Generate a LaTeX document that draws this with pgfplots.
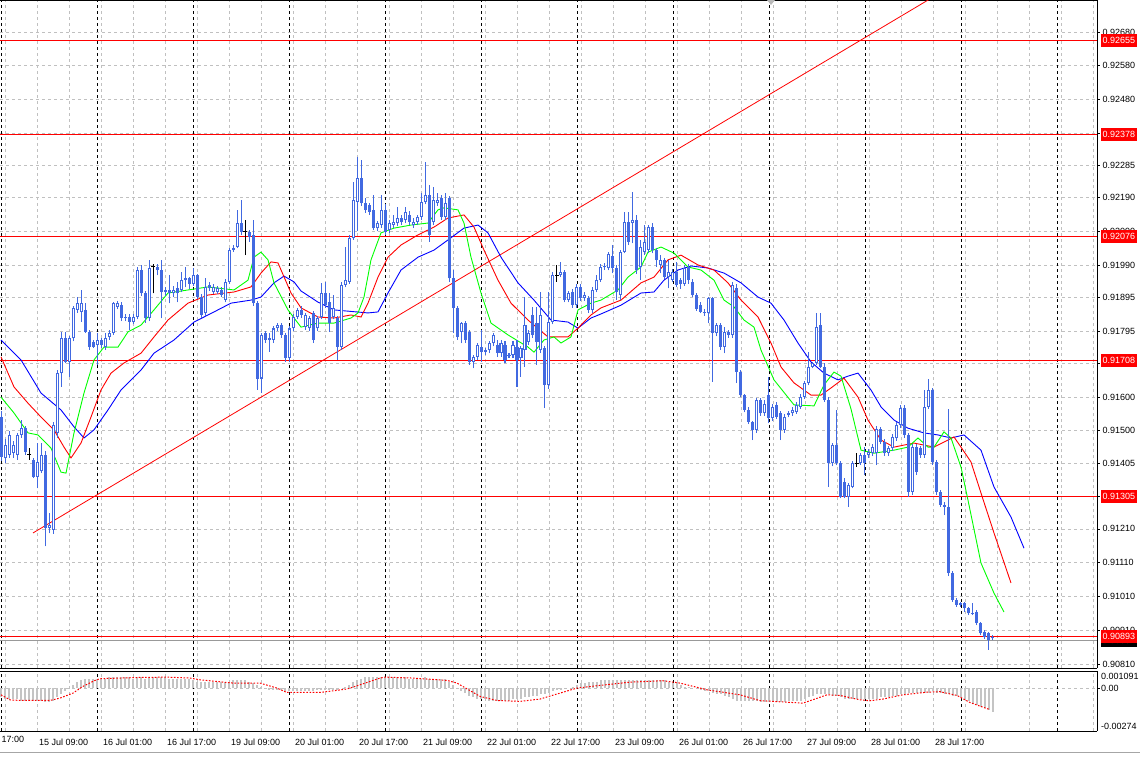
\documentclass[border=0pt]{standalone}
\usepackage{fontspec}
\setmainfont{Liberation Sans}
\usepackage{pgfplots}
\pgfplotsset{compat=1.18}
\usepackage{pgfplotstable}
\usetikzlibrary{plotmarks}

\definecolor{candle}{RGB}{65,105,225}
\definecolor{gridgray}{RGB}{192,192,192}
\definecolor{histgray}{RGB}{196,196,196}
\definecolor{lime}{RGB}{0,255,0}

% hourly bars: i o h l c
\pgfplotstableread{
i o h l c
0 0.91542 0.91560 0.91410 0.91424
1 0.91419 0.91475 0.91405 0.91458
2 0.91429 0.91500 0.91420 0.91488
3 0.91434 0.91470 0.91420 0.91458
4 0.91429 0.91495 0.91415 0.91488
5 0.91488 0.91532 0.91480 0.91508
6 0.91508 0.91515 0.91430 0.91439
7 0.91429 0.91448 0.91414 0.91429
8 0.91414 0.91420 0.91360 0.91365
9 0.91365 0.91463 0.91330 0.91409
10 0.91380 0.91463 0.91375 0.91429
11 0.91429 0.91440 0.91158 0.91212
12 0.91212 0.91256 0.91197 0.91222
13 0.91207 0.91525 0.91195 0.91517
14 0.91493 0.91680 0.91480 0.91670
15 0.91670 0.91794 0.91631 0.91774
16 0.91774 0.91794 0.91700 0.91705
17 0.91705 0.91780 0.91660 0.91774
18 0.91774 0.91870 0.91765 0.91863
19 0.91858 0.91897 0.91850 0.91877
20 0.91853 0.91917 0.91823 0.91877
21 0.91858 0.91877 0.91790 0.91794
22 0.91794 0.91800 0.91740 0.91749
23 0.91764 0.91770 0.91745 0.91749
24 0.91754 0.91789 0.91695 0.91769
25 0.91769 0.91775 0.91745 0.91754
26 0.91749 0.91790 0.91740 0.91774
27 0.91779 0.91800 0.91770 0.91789
28 0.91789 0.91882 0.91785 0.91877
29 0.91867 0.91885 0.91860 0.91877
30 0.91872 0.91880 0.91825 0.91833
31 0.91838 0.91845 0.91825 0.91833
32 0.91838 0.91845 0.91800 0.91823
33 0.91823 0.91845 0.91815 0.91838
34 0.91838 0.91986 0.91830 0.91976
35 0.91976 0.91990 0.91900 0.91907
36 0.91907 0.91915 0.91820 0.91833
37 0.91833 0.92005 0.91825 0.91981
38 0.91986 0.91995 0.91907 0.91986
39 0.91986 0.91995 0.91960 0.91976
40 0.91976 0.92005 0.91833 0.91912
41 0.91912 0.91925 0.91900 0.91917
42 0.91917 0.91961 0.91877 0.91907
43 0.91907 0.91930 0.91895 0.91917
44 0.91922 0.91940 0.91880 0.91907
45 0.91917 0.91971 0.91910 0.91946
46 0.91951 0.91985 0.91925 0.91946
47 0.91951 0.91956 0.91920 0.91936
48 0.91936 0.91981 0.91930 0.91961
49 0.91961 0.91965 0.91890 0.91897
50 0.91897 0.91905 0.91835 0.91843
51 0.91848 0.91951 0.91840 0.91927
52 0.91932 0.91940 0.91915 0.91922
53 0.91912 0.91935 0.91905 0.91927
54 0.91912 0.91930 0.91905 0.91922
55 0.91917 0.91925 0.91895 0.91902
56 0.91887 0.91950 0.91880 0.91941
57 0.91941 0.92040 0.91935 0.92035
58 0.92035 0.92050 0.92030 0.92040
59 0.92045 0.92153 0.92040 0.92114
60 0.92114 0.92183 0.92080 0.92089
61 0.92089 0.92124 0.92020 0.92089
62 0.92089 0.92095 0.92060 0.92075
63 0.92080 0.92124 0.91870 0.91877
64 0.91877 0.91885 0.91621 0.91655
65 0.91655 0.91789 0.91611 0.91784
66 0.91789 0.91795 0.91760 0.91769
67 0.91769 0.91789 0.91734 0.91774
68 0.91769 0.91810 0.91760 0.91803
69 0.91803 0.91820 0.91795 0.91813
70 0.91813 0.91820 0.91775 0.91784
71 0.91784 0.91790 0.91705 0.91715
72 0.91715 0.91810 0.91705 0.91803
73 0.91803 0.91845 0.91795 0.91838
74 0.91838 0.91865 0.91830 0.91858
75 0.91858 0.91870 0.91835 0.91843
76 0.91808 0.91850 0.91800 0.91843
77 0.91803 0.91840 0.91795 0.91833
78 0.91848 0.91855 0.91760 0.91769
79 0.91803 0.91840 0.91795 0.91833
80 0.91838 0.91937 0.91830 0.91907
81 0.91907 0.91941 0.91865 0.91873
82 0.91882 0.91907 0.91794 0.91818
83 0.91838 0.91902 0.91830 0.91863
84 0.91833 0.91840 0.91710 0.91749
85 0.91749 0.91940 0.91740 0.91932
86 0.91932 0.92045 0.91925 0.91946
87 0.91942 0.92080 0.91935 0.92070
88 0.92070 0.92237 0.92065 0.92183
89 0.92178 0.92311 0.92090 0.92247
90 0.92247 0.92301 0.92165 0.92173
91 0.92173 0.92190 0.92145 0.92154
92 0.92168 0.92175 0.92140 0.92149
93 0.92154 0.92198 0.92094 0.92099
94 0.92099 0.92120 0.92090 0.92114
95 0.92109 0.92198 0.92100 0.92155
96 0.92155 0.92170 0.92080 0.92089
97 0.92094 0.92125 0.92085 0.92114
98 0.92109 0.92140 0.92100 0.92119
99 0.92114 0.92163 0.92105 0.92129
100 0.92129 0.92140 0.92110 0.92119
101 0.92124 0.92163 0.92115 0.92149
102 0.92139 0.92150 0.92110 0.92119
103 0.92109 0.92130 0.92100 0.92119
104 0.92119 0.92140 0.92110 0.92134
105 0.92134 0.92203 0.92125 0.92178
106 0.92178 0.92296 0.92170 0.92198
107 0.92198 0.92227 0.92060 0.92080
108 0.92119 0.92222 0.92110 0.92183
109 0.92173 0.92203 0.92165 0.92183
110 0.92188 0.92198 0.92125 0.92134
111 0.92134 0.92203 0.92125 0.92173
112 0.92188 0.92195 0.91940 0.91951
113 0.91951 0.91976 0.91789 0.91863
114 0.91863 0.91870 0.91770 0.91779
115 0.91794 0.91823 0.91759 0.91818
116 0.91818 0.91825 0.91760 0.91769
117 0.91794 0.91800 0.91695 0.91705
118 0.91705 0.91725 0.91685 0.91720
119 0.91720 0.91760 0.91710 0.91754
120 0.91749 0.91799 0.91705 0.91734
121 0.91739 0.91745 0.91725 0.91734
122 0.91739 0.91765 0.91730 0.91759
123 0.91759 0.91790 0.91750 0.91784
124 0.91754 0.91770 0.91720 0.91730
125 0.91730 0.91770 0.91720 0.91759
126 0.91754 0.91765 0.91700 0.91710
127 0.91721 0.91730 0.91715 0.91725
128 0.91725 0.91765 0.91715 0.91754
129 0.91749 0.91769 0.91631 0.91710
130 0.91715 0.91750 0.91660 0.91744
131 0.91739 0.91897 0.91690 0.91813
132 0.91764 0.91800 0.91755 0.91789
133 0.91843 0.91868 0.91775 0.91784
134 0.91818 0.91868 0.91695 0.91764
135 0.91739 0.91912 0.91730 0.91843
136 0.91744 0.91750 0.91567 0.91636
137 0.91636 0.91912 0.91625 0.91823
138 0.91823 0.91970 0.91815 0.91961
139 0.91961 0.91991 0.91942 0.91961
140 0.91961 0.92001 0.91955 0.91971
141 0.91971 0.91975 0.91880 0.91887
142 0.91887 0.91915 0.91880 0.91907
143 0.91912 0.91920 0.91865 0.91873
144 0.91873 0.91935 0.91865 0.91927
145 0.91926 0.91935 0.91885 0.91892
146 0.91892 0.91910 0.91885 0.91902
147 0.91892 0.91900 0.91850 0.91857
148 0.91857 0.91925 0.91850 0.91917
149 0.91917 0.91961 0.91910 0.91946
150 0.91946 0.91995 0.91940 0.91986
151 0.91984 0.91996 0.91976 0.91988
152 0.91981 0.92030 0.91975 0.92023
153 0.92018 0.92050 0.91966 0.91981
154 0.91981 0.91990 0.91887 0.91912
155 0.91902 0.92035 0.91887 0.92030
156 0.92030 0.92148 0.92025 0.92119
157 0.92119 0.92148 0.92050 0.92060
158 0.92114 0.92207 0.92055 0.92124
159 0.92124 0.92140 0.91965 0.91976
160 0.91986 0.92065 0.91946 0.92045
161 0.92030 0.92109 0.92020 0.92060
162 0.92035 0.92110 0.92025 0.92104
163 0.92104 0.92115 0.92025 0.92035
164 0.92035 0.92040 0.91986 0.92005
165 0.91991 0.92020 0.91966 0.92005
166 0.92005 0.92012 0.91950 0.91956
167 0.91956 0.92005 0.91922 0.91971
168 0.91946 0.91980 0.91940 0.91971
169 0.91971 0.92001 0.91925 0.91931
170 0.91946 0.91952 0.91920 0.91936
171 0.91936 0.91991 0.91930 0.91981
172 0.91986 0.91995 0.91935 0.91946
173 0.91941 0.91950 0.91895 0.91902
174 0.91902 0.91908 0.91855 0.91862
175 0.91872 0.91880 0.91848 0.91853
176 0.91853 0.91860 0.91840 0.91848
177 0.91848 0.91897 0.91818 0.91892
178 0.91892 0.91897 0.91645 0.91789
179 0.91789 0.91820 0.91780 0.91813
180 0.91813 0.91818 0.91740 0.91749
181 0.91749 0.91808 0.91729 0.91793
182 0.91793 0.91800 0.91775 0.91784
183 0.91784 0.91940 0.91775 0.91931
184 0.91922 0.91936 0.91641 0.91675
185 0.91675 0.91680 0.91600 0.91606
186 0.91606 0.91610 0.91555 0.91562
187 0.91562 0.91570 0.91520 0.91527
188 0.91527 0.91530 0.91473 0.91503
189 0.91503 0.91596 0.91495 0.91591
190 0.91591 0.91596 0.91545 0.91552
191 0.91552 0.91590 0.91545 0.91581
192 0.91606 0.91660 0.91522 0.91537
193 0.91537 0.91580 0.91530 0.91572
194 0.91577 0.91585 0.91535 0.91542
195 0.91552 0.91560 0.91473 0.91503
196 0.91503 0.91550 0.91495 0.91542
197 0.91547 0.91560 0.91540 0.91552
198 0.91552 0.91570 0.91545 0.91562
199 0.91557 0.91585 0.91550 0.91576
200 0.91571 0.91610 0.91565 0.91601
201 0.91601 0.91648 0.91595 0.91641
202 0.91641 0.91734 0.91635 0.91690
203 0.91690 0.91705 0.91685 0.91700
204 0.91700 0.91848 0.91695 0.91808
205 0.91813 0.91848 0.91685 0.91690
206 0.91690 0.91700 0.91585 0.91591
207 0.91591 0.91600 0.91335 0.91404
208 0.91404 0.91465 0.91395 0.91458
209 0.91458 0.91562 0.91398 0.91404
210 0.91404 0.91410 0.91300 0.91305
211 0.91350 0.91360 0.91300 0.91305
212 0.91305 0.91345 0.91276 0.91340
213 0.91335 0.91410 0.91330 0.91404
214 0.91404 0.91434 0.91394 0.91404
215 0.91404 0.91435 0.91400 0.91429
216 0.91429 0.91453 0.91370 0.91404
217 0.91429 0.91445 0.91420 0.91439
218 0.91434 0.91460 0.91425 0.91453
219 0.91434 0.91515 0.91399 0.91507
220 0.91507 0.91512 0.91460 0.91468
221 0.91468 0.91475 0.91425 0.91434
222 0.91434 0.91455 0.91425 0.91448
223 0.91448 0.91490 0.91440 0.91483
224 0.91478 0.91525 0.91470 0.91517
225 0.91517 0.91576 0.91510 0.91567
226 0.91567 0.91576 0.91480 0.91488
227 0.91488 0.91495 0.91305 0.91320
228 0.91320 0.91460 0.91310 0.91453
229 0.91453 0.91460 0.91370 0.91379
230 0.91448 0.91455 0.91420 0.91429
231 0.91429 0.91621 0.91420 0.91571
232 0.91571 0.91655 0.91565 0.91621
233 0.91621 0.91626 0.91400 0.91409
234 0.91409 0.91415 0.91310 0.91320
235 0.91320 0.91325 0.91275 0.91281
236 0.91281 0.91290 0.91251 0.91276
237 0.91276 0.91566 0.91070 0.91079
238 0.91079 0.91085 0.90995 0.91000
239 0.91000 0.91005 0.90980 0.90985
240 0.90990 0.90995 0.90980 0.90985
241 0.90990 0.90995 0.90965 0.90975
242 0.90975 0.90980 0.90955 0.90960
243 0.90962 0.90990 0.90955 0.90960
244 0.90965 0.90970 0.90925 0.90931
245 0.90931 0.90935 0.90895 0.90901
246 0.90906 0.90910 0.90885 0.90891
247 0.90901 0.90906 0.90852 0.90881
248 0.90890 0.90895 0.90880 0.90887
}\candles

\pgfplotsset{
  every tick label/.append style={font=\fontsize{9}{10}\selectfont},
  mtgrid/.style={
    xmin=-0.25, xmax=274,
    scale only axis, width=1097pt,
    axis x line*=box, axis y line*=right,
    axis line style={black, line width=0.8pt},
    minor xtick={1,17,...,273},
    xminorgrids, xmajorgrids, ymajorgrids,
    major grid style={gridgray, dash pattern=on 3pt off 3pt, line width=0.8pt},
    minor grid style={gridgray, dash pattern=on 3pt off 3pt, line width=0.8pt},
    extra x ticks={0,24,...,264}, extra x tick labels={},
    extra x tick style={major grid style={black, dash pattern=on 3pt off 3pt, line width=0.8pt}, major tick length=0pt},
    x tick style={draw=none}, minor x tick style={draw=none},
    tick align=outside, major tick length=3pt,
    y tick style={black, line width=0.8pt},
    scaled y ticks=false,
    clip mode=individual,
  },
  wick/.style={draw=none, forget plot, error bars/.cd, y dir=plus, y explicit, error mark=none,
    error bar style={draw=#1, line width=1pt}},
}

\begin{document}
\begin{tikzpicture}
\useasboundingbox (0pt,0pt) rectangle (1140pt,756pt);
\fill[white] (0pt,0pt) rectangle (1140pt,756pt);

% ---------------- price window ----------------
\begin{axis}[mtgrid,
  name=main, at={(0pt,88pt)}, anchor=south west, height=668pt,
  ymin=0.907984, ymax=0.92775,
  xtick={9,25,...,265}, xticklabels={},
  ytick={0.90810,0.90910,0.91010,0.91110,0.91210,0.91305,0.91405,0.91500,0.91600,0.91700,0.91795,0.91895,0.91990,0.92090,0.92190,0.92285,0.92380,0.92480,0.92580,0.92680},
  yticklabels={0.90810,0.90910,0.91010,0.91110,0.91210,0.91305,0.91405,0.91500,0.91600,0.91700,0.91795,0.91895,0.91990,0.92090,0.92190,0.92285,0.92380,0.92480,0.92580,0.92680},
  yticklabel pos=right,
  y tick label style={anchor=west, xshift=-1pt},
]
% horizontal levels
\addplot[red, line width=0.8pt] coordinates {(-1,0.92655) (275,0.92655)};
\addplot[red, line width=0.8pt] coordinates {(-1,0.92378) (275,0.92378)};
\addplot[red, line width=0.8pt] coordinates {(-1,0.92076) (275,0.92076)};
\addplot[red, line width=0.8pt] coordinates {(-1,0.91708) (275,0.91708)};
\addplot[red, line width=0.8pt] coordinates {(-1,0.91305) (275,0.91305)};
\addplot[gray!80, line width=0.8pt] coordinates {(-1,0.90881) (275,0.90881)};
\addplot[red, line width=0.8pt] coordinates {(-1,0.90893) (275,0.90893)};
% trend line
\addplot[red, line width=0.8pt] coordinates {(8,0.91198) (232.5,0.92780)};

% alligator lines
\addplot[blue, line width=0.9pt] coordinates {
(0,0.91769)(5,0.91710)(10,0.91612)(15,0.91562)(18.25,0.91512)(20.75,0.91479)(23.25,0.91503)(26.75,0.91562)
(30,0.91621)(35,0.91680)(38.25,0.91730)(43.25,0.91769)(48.25,0.91822)(53.25,0.91852)(57.5,0.91878)(62.5,0.91887)
(65,0.91896)(68.25,0.91938)(70.75,0.91958)(73.25,0.91941)(75,0.91914)(79.25,0.91881)(83.25,0.91858)(91.75,0.91849)
(94.25,0.91852)(96.75,0.91908)(100,0.91976)(104.25,0.92014)(108.25,0.92035)(111.75,0.92065)(115.75,0.92100)
(119.25,0.92109)(121.75,0.92086)(125,0.92014)(129.25,0.91938)(133.25,0.91887)(137.5,0.91828)(141.75,0.91822)
(144.25,0.91804)(147.5,0.91834)(150,0.91846)(155,0.91872)(160,0.91908)(163.25,0.91911)(165.75,0.91946)
(169.25,0.91976)(172.5,0.91988)(176.75,0.91982)(180.75,0.91967)(185,0.91938)(189.25,0.91896)(192.5,0.91878)
(195.75,0.91828)(199.25,0.91760)(202.5,0.91704)(205.75,0.91671)(209.25,0.91651)(211.75,0.91662)(214.25,0.91671)
(217.5,0.91621)(220,0.91571)(223.25,0.91532)(226.75,0.91508)(230.75,0.91494)(234.25,0.91488)(237.5,0.91479)
(240.75,0.91488)(245,0.91443)(248.25,0.91334)(252.5,0.91245)(255.75,0.91153)};
\addplot[red, line width=0.9pt] coordinates {
(0,0.91719)(3.25,0.91630)(6.75,0.91582)(10,0.91541)(13.25,0.91503)(15.75,0.91452)(17.5,0.91420)(20,0.91464)
(22.5,0.91541)(25,0.91621)(27.5,0.91671)(30.75,0.91701)(35,0.91730)(38.25,0.91778)(41.75,0.91828)(46.75,0.91878)
(51.75,0.91902)(58.25,0.91911)(62.5,0.91926)(65,0.91967)(67.5,0.92000)(69.25,0.91997)(72.5,0.91908)(75,0.91864)
(79.25,0.91837)(83.25,0.91834)(87.5,0.91843)(90,0.91837)(91.75,0.91878)(94.25,0.91955)(96.75,0.92014)(100,0.92050)
(104.25,0.92080)(108.25,0.92103)(111.75,0.92130)(115.75,0.92139)(118.25,0.92103)(120.75,0.92035)(124.25,0.91946)
(127.5,0.91878)(131.75,0.91828)(136.75,0.91778)(141.75,0.91778)(144.25,0.91804)(147.5,0.91843)(150,0.91864)
(155,0.91887)(160,0.91938)(163.25,0.91955)(166.75,0.92006)(170,0.92020)(174.25,0.91991)(178.25,0.91976)
(181.75,0.91938)(185,0.91887)(189.25,0.91837)(192.5,0.91760)(195,0.91689)(198.25,0.91642)(202.5,0.91606)
(205,0.91606)(207.5,0.91627)(210.75,0.91656)(214.25,0.91600)(216.75,0.91532)(220,0.91473)(223.25,0.91452)
(228.25,0.91464)(233.25,0.91452)(236.75,0.91473)(238.25,0.91482)(240,0.91452)(242.5,0.91408)(245,0.91316)
(248.25,0.91198)(252.5,0.91050)};
\addplot[lime, line width=0.9pt] coordinates {
(0,0.91600)(3.25,0.91553)(6.75,0.91494)(9.25,0.91488)(12.5,0.91449)(15,0.91378)(16.25,0.91375)(18.25,0.91494)
(20.75,0.91612)(23.25,0.91710)(25.75,0.91748)(29.25,0.91748)(31.75,0.91793)(35,0.91813)(38.25,0.91858)
(41.75,0.91908)(46.75,0.91917)(51.75,0.91926)(58.25,0.91917)(61.75,0.91946)(63.25,0.92014)(65,0.92029)
(66.75,0.92006)(68.25,0.91938)(71.75,0.91858)(75,0.91807)(79.25,0.91819)(83.25,0.91819)(87.5,0.91834)
(89.25,0.91849)(90.75,0.91896)(92.5,0.92006)(95,0.92086)(98.25,0.92100)(102.5,0.92109)(106.75,0.92115)
(109.25,0.92154)(110.75,0.92160)(114.25,0.92154)(115.75,0.92115)(117.5,0.92014)(120,0.91908)(122.5,0.91819)
(126.75,0.91784)(131.75,0.91748)(133.25,0.91733)(135.75,0.91769)(138.25,0.91778)(140,0.91760)(142.5,0.91778)
(144.25,0.91858)(147.5,0.91878)(150,0.91887)(154.25,0.91917)(156.75,0.91955)(160,0.91985)(161.75,0.92029)
(165,0.92044)(168.25,0.92026)(171.75,0.91985)(175,0.91976)(178.25,0.91946)(180.75,0.91887)(183.25,0.91867)
(185.75,0.91828)(188.25,0.91807)(190,0.91739)(193.25,0.91651)(198.25,0.91577)(203.25,0.91574)(205.75,0.91636)
(208.25,0.91674)(210,0.91662)(212.5,0.91565)(215,0.91443)(218.25,0.91434)(223.25,0.91443)(226.75,0.91452)
(229.25,0.91479)(231.75,0.91452)(233.25,0.91452)(235.75,0.91497)(237.5,0.91479)(240,0.91393)(241.75,0.91295)
(245,0.91109)(248.25,0.91020)(250.75,0.90964)};

% candles: wicks, bodies, hollow up-bodies, doji
\addplot[wick=candle] table[x=i, y=l, y error expr=\thisrow{h}-\thisrow{l}] {\candles};
\addplot[draw=none, forget plot,
  restrict expr to domain={abs(\thisrow{c}-\thisrow{o})}{0.000004:1},
  error bars/.cd, y dir=plus, y explicit, error mark=none,
  error bar style={draw=candle, line width=3pt}]
  table[x=i, y expr={min(\thisrow{o},\thisrow{c})},
        y error expr={max(abs(\thisrow{c}-\thisrow{o}),0.00002)}] {\candles};
\addplot[draw=none, forget plot,
  restrict expr to domain={\thisrow{c}-\thisrow{o}}{0.00007:1},
  error bars/.cd, y dir=plus, y explicit, error mark=none,
  error bar style={draw=white, line width=1pt}]
  table[x=i, y expr={\thisrow{o}+0.00003},
        y error expr={\thisrow{c}-\thisrow{o}-0.00006}] {\candles};
\addplot[restrict expr to domain={abs(\thisrow{c}-\thisrow{o})}{0:0.000004}, wick=black]
  table[x=i, y=l, y error expr=\thisrow{h}-\thisrow{l}] {\candles};
\addplot[only marks, mark=-, mark size=2pt, black, mark options={line width=1pt},
  restrict expr to domain={abs(\thisrow{c}-\thisrow{o})}{0:0.000004}]
  table[x=i, y=o] {\candles};

\coordinate (r1) at (axis cs:274,0.92655);
\coordinate (r2) at (axis cs:274,0.92378);
\coordinate (r3) at (axis cs:274,0.92076);
\coordinate (r4) at (axis cs:274,0.91708);
\coordinate (r5) at (axis cs:274,0.91305);
\coordinate (r6) at (axis cs:274,0.90893);
\coordinate (r7) at (axis cs:274,0.90881);
\end{axis}

% price boxes on the scale
\tikzset{lvl/.style={anchor=west, fill=#1, text=white, inner xsep=2pt, inner ysep=0pt,
  minimum height=13pt, font=\fontsize{9}{10}\selectfont, xshift=3.5pt}}
\node[lvl=black] at (r7) {0.90887};
\foreach \r/\v in {r1/0.92655, r2/0.92378, r3/0.92076, r4/0.91708, r5/0.91305, r6/0.90893}
  \node[lvl=red] at (\r) {\v};

% ---------------- MACD window ----------------
\begin{axis}[mtgrid,
  name=sub, at={(0pt,25pt)}, anchor=south west, height=60pt,
  ymin=-0.00274, ymax=0.001091,
  xtick={9,25,...,233},
  xticklabels={15 Jul 09:00,16 Jul 01:00,16 Jul 17:00,19 Jul 09:00,20 Jul 01:00,20 Jul 17:00,21 Jul 09:00,22 Jul 01:00,22 Jul 17:00,23 Jul 09:00,26 Jul 01:00,26 Jul 17:00,27 Jul 09:00,28 Jul 01:00,28 Jul 17:00},
  x tick label style={anchor=north west, xshift=-1.5pt, yshift=-1pt},
  ytick={0}, yticklabels={},
]
\addplot[ycomb, histgray, line width=1.3pt] coordinates {
(0,-0.0006)(1,-0.0007)(2,-0.0007)(3,-0.0007)(4,-0.0007)(5,-0.0008)(6,-0.0008)(7,-0.0008)(8,-0.0008)(9,-0.0008)
(10,-0.0008)(11,-0.0009)(12,-0.0009)(13,-0.0008)(14,-0.0006)(15,-0.0004)(16,-0.0002)(17,0)(18,0.0002)(19,0.0004)
(20,0.0005)(21,0.0006)(22,0.0006)(23,0.0006)(24,0.0006)(25,0.0006)(26,0.0006)(27,0.0007)(28,0.0007)(29,0.0007)
(30,0.0007)(31,0.0007)(32,0.0007)(33,0.0006)(34,0.0007)(35,0.0007)(36,0.0006)(37,0.0007)(38,0.0007)(39,0.0007)
(40,0.0007)(41,0.0007)(42,0.0006)(43,0.0006)(44,0.0006)(45,0.0006)(46,0.0006)(47,0.0006)(48,0.0005)(49,0.0004)
(50,0.0004)(51,0.0004)(52,0.0004)(53,0.0004)(54,0.0004)(55,0.0004)(56,0.0004)(57,0.0004)(58,0.0005)(59,0.0005)
(60,0.0005)(61,0.0005)(62,0.0004)(63,0.0003)(64,0.0002)(65,0.0001)(66,0)(67,-0.0001)(68,-0.0001)(69,-0.0001)
(70,-0.0001)(71,-0.0002)(72,-0.0002)(73,-0.0002)(74,-0.0002)(75,-0.0002)(76,-0.0002)(77,-0.0002)(78,-0.0002)(79,-0.0001)
(80,-0.0001)(81,-0.0001)(82,-0.0001)(83,-0.0001)(84,-0.0001)(85,0)(86,0.0001)(87,0.0002)(88,0.0004)(89,0.0005)
(90,0.0006)(91,0.0007)(92,0.0007)(93,0.0007)(94,0.0007)(95,0.0007)(96,0.0007)(97,0.0007)(98,0.0007)(99,0.0007)
(100,0.0007)(101,0.0007)(102,0.0006)(103,0.0006)(104,0.0006)(105,0.0006)(106,0.0007)(107,0.0006)(108,0.0006)(109,0.0006)
(110,0.0006)(111,0.0006)(112,0.0004)(113,0.0002)(114,0)(115,-0.0002)(116,-0.0003)(117,-0.0005)(118,-0.0006)(119,-0.0007)
(120,-0.0007)(121,-0.0007)(122,-0.0008)(123,-0.0008)(124,-0.0008)(125,-0.0008)(126,-0.0008)(127,-0.0008)(128,-0.0007)(129,-0.0007)
(130,-0.0007)(131,-0.0006)(132,-0.0006)(133,-0.0005)(134,-0.0005)(135,-0.0004)(136,-0.0004)(137,-0.0003)(138,-0.0002)(139,-0.0001)
(140,-0.0001)(141,0)(142,0)(143,0.0001)(144,0.0002)(145,0.0003)(146,0.0003)(147,0.0004)(148,0.0004)(149,0.0004)
(150,0.0005)(151,0.0005)(152,0.0005)(153,0.0005)(154,0.0005)(155,0.0005)(156,0.0005)(157,0.0005)(158,0.0005)(159,0.0005)
(160,0.0005)(161,0.0005)(162,0.0005)(163,0.0005)(164,0.0005)(165,0.0005)(166,0.0005)(167,0.0004)(168,0.0003)(169,0.0003)
(170,0.0002)(171,0.0001)(172,0.0001)(173,0)(174,0)(175,-0.0001)(176,-0.0002)(177,-0.0002)(178,-0.0003)(179,-0.0004)
(180,-0.0004)(181,-0.0005)(182,-0.0006)(183,-0.0007)(184,-0.0008)(185,-0.0008)(186,-0.0008)(187,-0.0008)(188,-0.0008)(189,-0.0008)
(190,-0.0009)(191,-0.0009)(192,-0.0009)(193,-0.0009)(194,-0.0009)(195,-0.0009)(196,-0.0009)(197,-0.0008)(198,-0.0008)(199,-0.0008)
(200,-0.0008)(201,-0.0007)(202,-0.0006)(203,-0.0005)(204,-0.0004)(205,-0.0004)(206,-0.0004)(207,-0.0004)(208,-0.0005)(209,-0.0005)
(210,-0.0006)(211,-0.0007)(212,-0.0007)(213,-0.0007)(214,-0.0007)(215,-0.0007)(216,-0.0007)(217,-0.0007)(218,-0.0007)(219,-0.0007)
(220,-0.0006)(221,-0.0006)(222,-0.0006)(223,-0.0005)(224,-0.0005)(225,-0.0004)(226,-0.0004)(227,-0.0003)(228,-0.0003)(229,-0.0003)
(230,-0.0003)(231,-0.0003)(232,-0.0003)(233,-0.0002)(234,-0.0003)(235,-0.0003)(236,-0.0004)(237,-0.0004)(238,-0.0005)(239,-0.0005)
(240,-0.0006)(241,-0.0007)(242,-0.0008)(243,-0.0010)(244,-0.0011)(245,-0.0012)(246,-0.0013)(247,-0.0014)(248,-0.0015)};
\addplot[red, line width=1pt, dash pattern=on 1.6pt off 1.6pt] coordinates {
(0,-0.00043)(2.25,-0.00075)(4.75,-0.00079)(12.25,-0.00079)(14.75,-0.00064)(18,-0.00032)(20.5,0.00011)(23.5,0.00049)
(24.75,0.0006)(34.75,0.00068)(41.5,0.0007)(47.25,0.00064)(49.75,0.00053)(58,0.00032)(64.75,0.00032)(69,0)
(71.5,-0.00028)(79.75,-0.00028)(86.5,-0.00006)(89.75,0.00021)(94.75,0.00064)(96,0.0007)(103,0.00064)(111.5,0.00049)
(114,0.00032)(119.75,-0.00053)(124,-0.00079)(129.75,-0.00085)(134.75,-0.0007)(139.75,-0.00032)(144,0)(149,0.00015)
(157.25,0.00038)(165.5,0.00047)(169.75,0.00032)(176.5,-0.00011)(184.75,-0.00043)(189.75,-0.0008)(200.5,-0.00096)
(206.5,-0.00043)(209.75,-0.00047)(214.75,-0.00075)(217.25,-0.00081)(220.5,-0.0007)(225.5,-0.00043)(231.5,-0.00026)
(234.75,-0.00023)(239,-0.00047)(242.25,-0.00092)(247.25,-0.00138)};
\node[anchor=north west, font=\fontsize{9}{10}\selectfont, inner sep=0pt, xshift=4pt, yshift=-2pt] at (rel axis cs:1,1) {0.001091};
\node[anchor=west, font=\fontsize{9}{10}\selectfont, inner sep=0pt, xshift=4pt] at (axis cs:274,0) {0.00};
\node[anchor=south west, font=\fontsize{9}{10}\selectfont, inner sep=0pt, xshift=4pt, yshift=1pt] at (rel axis cs:1,0) {-0.00274};
\node[anchor=north west, font=\fontsize{9}{10}\selectfont, xshift=-1.5pt, yshift=-1pt] at (axis cs:-7,-0.00274) {14 Jul 17:00};
\end{axis}

% chart shift marker and window edge
\fill[gray!55] (767pt,756pt) -- (775pt,756pt) -- (771pt,751pt) -- cycle;
\draw[gray!70, line width=0.8pt] (0pt,4pt) -- (1140pt,4pt);
\end{tikzpicture}
\end{document}
